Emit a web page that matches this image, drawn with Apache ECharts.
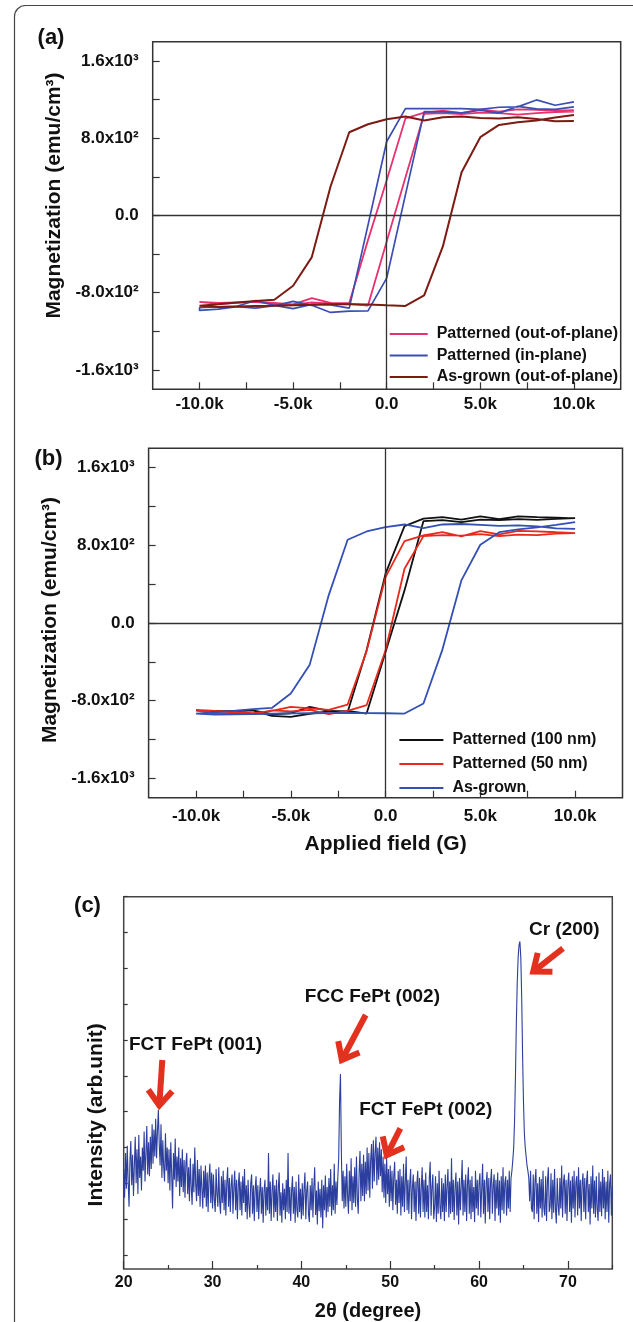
<!DOCTYPE html>
<html>
<head>
<meta charset="utf-8">
<script src="https://cdn.jsdelivr.net/npm/echarts@6.0.0/dist/echarts.min.js"></script>
<style>
  html, body { margin: 0; padding: 0; background: #fff; }
  #chart { width: 633px; height: 1322px; }
</style>
</head>
<body>
<div id="chart"></div>
<script>
const FONT = 'Liberation Sans, Arial, sans-serif'
const RED_ARROW = '#e2321f'

// applied field sweep, +10k -> -10k then back
const fieldDown = [10000, 9000, 8000, 7000, 6000, 5000, 4000, 3000, 2000, 1000, 0,
  -1000, -2000, -3000, -4000, -5000, -6000, -7000, -8000, -9000, -10000]
const fieldUp = fieldDown.slice().reverse()

// (a) magnetization, emu/cm3
const pinkDown = [1090, 1085, 1095, 1100, 1075, 1100, 1060, 1085, 1065, 1005, 366, -255, -907, -905, -855, -920, -905, -895, -900, -905, -895]
const pinkUp = [-910, -915, -905, -895, -920, -925, -900, -912, -915, -932, -269, 393, 1052, 1060, 1050, 1065, 1060, 1045, 1060, 1070, 1075]
const inPlaneDown = [1176, 1142, 1197, 1125, 1121, 1100, 1107, 1107, 1107, 1107, 766, -100, -959, -925, -920, -965, -930, -880, -940, -945, -955]
const inPlaneUp = [-983, -969, -945, -959, -935, -890, -930, -1004, -990, -987, -649, 214, 1076, 1073, 1062, 1090, 1060, 1130, 1105, 1100, 1125]
const grownDownA = [980, 976, 1000, 1018, 1004, 1011, 1025, 1018, 983, 1025, 997, 945, 862, 300, -431, -728, -873, -885, -900, -920, -935]
const grownUpA = [-955, -948, -942, -938, -935, -930, -925, -920, -918, -922, -930, -937, -828, -320, 448, 811, 938, 966, 983, 1014, 1042]

// (b)
const nm100Down = [1077, 1085, 1090, 1098, 1070, 1098, 1065, 1091, 1075, 998, 508, -281, -916, -905, -864, -930, -940, -900, -910, -905, -900]
const nm100Up = [-915, -912, -905, -900, -957, -967, -935, -910, -905, -933, -298, 336, 1050, 1060, 1040, 1065, 1060, 1070, 1062, 1072, 1080]
const nm50Down = [926, 935, 945, 950, 912, 947, 892, 936, 902, 844, 473, -290, -840, -895, -880, -864, -905, -930, -915, -905, -900]
const nm50Up = [-920, -935, -930, -938, -900, -910, -895, -940, -905, -847, -281, 559, 895, 905, 900, 915, 895, 910, 905, 920, 925]
const grownDownB = [970, 975, 995, 1005, 1000, 1010, 1020, 1015, 978, 1015, 988, 943, 858, 285, -429, -727, -875, -888, -905, -920, -933]
const grownUpB = [-950, -945, -940, -938, -935, -932, -930, -928, -925, -928, -930, -933, -830, -274, 439, 806, 936, 965, 985, 1010, 1039]

const fieldTicks = [-10000, -7500, -5000, -2500, 0, 2500, 5000, 7500, 10000]
const fieldLabels = [-10000, -5000, 0, 5000, 10000]
const magTicks = [-1600, -1200, -800, -400, 0, 400, 800, 1200, 1600]
const magLabels = [-1600, -800, 0, 800, 1600]
const magLabelText = ['-1.6x10³', '-8.0x10²', '0.0', '8.0x10²', '1.6x10³']

// (c) XRD, 2theta from 20.0 to 75.0 in 0.1 steps
const twoThetaStart = 20
const twoThetaStep = 0.1
const intensity = [
  240, 160, 285, 185, 305, 205, 135, 262, 318, 195,
  280, 165, 250, 330, 200, 295, 170, 335, 215, 275,
  180, 300, 235, 345, 205, 285, 360, 225, 315, 220,
  330, 240, 365, 255, 350, 275, 380, 270, 345, 405,
  310, 250, 365, 215, 320, 245, 205, 340, 235, 300,
  200, 295, 180, 315, 225, 130, 285, 210, 325, 190,
  275, 205, 300, 165, 270, 190, 295, 175, 265, 160,
  255, 285, 170, 245, 150, 270, 190, 140, 255, 175,
  300, 200, 150, 265, 165, 240, 135, 250, 185, 130,
  235, 160, 250, 135, 230, 120, 215, 255, 145, 230,
  130, 225, 155, 120, 240, 170, 135, 245, 150, 115,
  220, 145, 235, 125, 210, 110, 200, 245, 135, 215,
  120, 195, 225, 115, 190, 235, 125, 210, 100, 195,
  230, 125, 205, 110, 220, 145, 240, 120, 195, 100,
  210, 140, 105, 200, 225, 115, 195, 95, 185, 220,
  120, 195, 100, 175, 215, 115, 190, 90, 180, 210,
  110, 190, 125, 285, 115, 205, 95, 180, 225, 105,
  195, 120, 210, 95, 185, 230, 110, 175, 90, 200,
  125, 185, 100, 210, 120, 285, 115, 190, 95, 180,
  220, 115, 190, 90, 205, 125, 105, 225, 120, 185,
  100, 200, 110, 185, 230, 100, 180, 205, 115, 92,
  195, 125, 215, 105, 190, 245, 112, 180, 85, 205,
  122, 185, 105, 210, 75, 195, 125, 222, 105, 190,
  120, 215, 135, 240, 110, 195, 125, 255, 115, 205,
  140, 215, 270, 430, 505, 290, 150, 235, 130, 220,
  135, 255, 165, 115, 235, 150, 270, 125, 220, 145,
  245, 135, 275, 160, 115, 230, 290, 150, 255, 165,
  280, 150, 260, 170, 300, 180, 285, 160, 265, 310,
  185, 320, 205, 285, 330, 195, 300, 210, 315, 220,
  295, 175, 275, 160, 255, 145, 270, 170, 240, 135,
  250, 150, 235, 125, 220, 260, 140, 210, 115, 235,
  145, 240, 110, 220, 135, 255, 120, 205, 275, 125,
  210, 115, 200, 240, 100, 190, 225, 120, 205, 95,
  200, 235, 115, 215, 105, 190, 245, 120, 210, 105,
  230, 120, 195, 100, 215, 260, 110, 190, 225, 100,
  135, 220, 92, 200, 115, 235, 135, 100, 215, 120,
  200, 95, 225, 120, 195, 240, 105, 205, 115, 270,
  120, 210, 98, 190, 230, 110, 205, 85, 215, 125,
  195, 265, 110, 210, 120, 225, 95, 200, 245, 115,
  210, 100, 220, 120, 190, 92, 235, 130, 210, 110,
  200, 228, 105, 185, 255, 115, 210, 88, 200, 232,
  120, 215, 100, 205, 240, 115, 195, 225, 95, 210,
  130, 230, 110, 208, 90, 220, 125, 245, 115, 200,
  220, 110, 210, 130, 235, 120, 215, 235, 265, 300,
  377, 500, 650, 760, 830, 865, 875, 830, 720, 560,
  430, 340, 300, 275, 250, 235, 215, 150, 235, 130,
  120, 225, 100, 208, 240, 115, 200, 92, 218, 130,
  212, 105, 235, 130, 110, 220, 95, 205, 245, 120,
  135, 228, 100, 210, 118, 240, 130, 88, 215, 140,
  110, 215, 130, 250, 105, 202, 225, 115, 210, 95,
  198, 230, 120, 208, 90, 220, 130, 235, 105, 202,
  220, 110, 245, 130, 210, 95, 200, 228, 120, 215,
  100, 205, 235, 120, 198, 85, 220, 130, 250, 115,
  208, 105, 220, 130, 95, 230, 120, 205, 108, 240,
  130, 218, 100, 205, 120, 235, 90, 200, 225, 110,
  195
]
const twoThetaMajor = [20, 30, 40, 50, 60, 70]
const twoThetaMinor = [25, 35, 45, 55, 65, 75]
const intensityTicks = [0, 100, 200, 300, 400, 500, 600, 700, 800, 900, 1000]

function loop(down, up) {
  return fieldDown.map((h, i) => [h, down[i]]).concat(fieldUp.map((h, i) => [h, up[i]]))
}

const xrdData = intensity.map((v, i) => [+(twoThetaStart + i * twoThetaStep).toFixed(1), v])

const boldText = (size) => ({ fontSize: size, fontWeight: 'bold', color: '#111', fontFamily: FONT })
const tickStyle = { color: '#333', width: 1.2 }

function fieldAxis(gridIndex, withName, labelMargin) {
  return {
    type: 'value', gridIndex: gridIndex, min: -12500, max: 12500,
    axisLine: { show: false, onZero: false },
    axisTick: { inside: true, length: 7, lineStyle: tickStyle, customValues: fieldTicks },
    axisLabel: Object.assign({
      customValues: fieldLabels, margin: labelMargin,
      formatter: v => v === 0 ? '0.0' : (v / 1000).toFixed(1) + 'k'
    }, boldText(17)),
    splitLine: { show: false },
    name: withName ? 'Applied field (G)' : '',
    nameLocation: 'middle', nameGap: 36,
    nameTextStyle: boldText(21)
  }
}

function magAxis(gridIndex, nameGap, namePad) {
  return {
    type: 'value', gridIndex: gridIndex, min: -1800, max: 1800,
    axisLine: { show: false, onZero: false },
    axisTick: { inside: true, length: 7, lineStyle: tickStyle, customValues: magTicks },
    axisLabel: Object.assign({
      customValues: magLabels, margin: 14,
      formatter: v => magLabelText[magLabels.indexOf(v)]
    }, boldText(17)),
    splitLine: { show: false },
    name: 'Magnetization (emu/cm³)',
    nameLocation: 'middle', nameGap: nameGap,
    nameTextStyle: Object.assign({ padding: namePad }, boldText(21))
  }
}

const zeroLines = {
  silent: true, symbol: ['none', 'none'], label: { show: false }, animation: false,
  lineStyle: { color: '#333', width: 1.3, type: 'solid' },
  data: [{ xAxis: 0 }, { yAxis: 0 }]
}

function loopSeries(name, axis, data, color, width, extra) {
  return Object.assign({
    name: name, type: 'line', xAxisIndex: axis, yAxisIndex: axis,
    data: data, symbol: 'none', color: color,
    lineStyle: { width: width, color: color }
  }, extra || {})
}

function arrow(s, t) {
  const dx = t[0] - s[0], dy = t[1] - s[1]
  const len = Math.hypot(dx, dy)
  const ux = dx / len, uy = dy / len
  const tip = [t[0] - ux * 4.5, t[1] - uy * 4.5]
  const bx = tip[0] - ux * 15, by = tip[1] - uy * 15
  const style = { stroke: RED_ARROW, lineWidth: 6, fill: null, lineJoin: 'miter' }
  return [
    { type: 'polyline', shape: { points: [s, tip] }, style: style },
    { type: 'polyline', shape: { points: [[bx - uy * 12, by + ux * 12], tip, [bx + uy * 12, by - ux * 12]] }, style: style }
  ]
}

function label(text, x, y, size) {
  return {
    type: 'text', x: x, y: y,
    style: { text: text, font: 'bold ' + size + 'px ' + FONT, fill: '#111', align: 'center', verticalAlign: 'middle' }
  }
}

const legendBase = {
  orient: 'vertical', itemHeight: 14, selectedMode: false,
  textStyle: Object.assign({ padding: [0, 0, 0, 4] }, boldText(16))
}

const chart = echarts.init(document.getElementById('chart'))
chart.setOption({
  animation: false,
  backgroundColor: '#fff',
  grid: [
    { left: 152.7, top: 41.7, width: 468, height: 347.6, show: true, borderColor: '#333', borderWidth: 1.5 },
    { left: 148.6, top: 448.3, width: 473.9, height: 349.4, show: true, borderColor: '#333', borderWidth: 1.5 },
    { left: 123.7, top: 896.7, width: 488.6, height: 372.6, show: true, borderColor: '#444', borderWidth: 1.5 }
  ],
  xAxis: [
    fieldAxis(0, false, 7),
    fieldAxis(1, true, 10),
    {
      type: 'value', gridIndex: 2, min: 20, max: 75, position: 'bottom',
      axisLine: { show: false, onZero: false },
      axisTick: { inside: true, length: 8, lineStyle: tickStyle, customValues: twoThetaMajor },
      axisLabel: Object.assign({ customValues: twoThetaMajor, margin: 6 }, boldText(16)),
      splitLine: { show: false },
      name: '2θ (degree)', nameLocation: 'middle', nameGap: 32,
      nameTextStyle: boldText(20)
    },
    {
      type: 'value', gridIndex: 2, min: 20, max: 75, position: 'bottom',
      axisLine: { show: false, onZero: false },
      axisTick: { inside: true, length: 4, lineStyle: tickStyle, customValues: twoThetaMinor },
      axisLabel: { show: false },
      splitLine: { show: false }
    }
  ],
  yAxis: [
    magAxis(0, 88, [0, 0, 0, 40]),
    magAxis(1, 84, [0, 0, 0, 6]),
    {
      type: 'value', gridIndex: 2, min: -39, max: 1000,
      axisLine: { show: false, onZero: false },
      axisTick: { inside: true, length: 4, lineStyle: tickStyle, customValues: intensityTicks },
      axisLabel: { show: false },
      splitLine: { show: false },
      name: 'Intensity (arb.unit)', nameLocation: 'middle', nameGap: 17,
      nameTextStyle: Object.assign({ padding: [0, 64, 0, 0] }, boldText(21))
    }
  ],
  legend: [
    Object.assign({
      data: ['Patterned (out-of-plane)', 'Patterned (in-plane)', 'As-grown (out-of-plane)'],
      left: 384.7, top: 321, itemWidth: 38, itemGap: 5.5,
      icon: 'path://M0,0 L38,0 L38,2 L0,2 Z'
    }, legendBase),
    Object.assign({
      data: ['Patterned (100 nm)', 'Patterned (50 nm)', 'As-grown'],
      left: 394.4, top: 727, itemWidth: 44, itemGap: 8,
      icon: 'path://M0,0 L44,0 L44,2 L0,2 Z'
    }, legendBase)
  ],
  series: [
    loopSeries('Patterned (out-of-plane)', 0, loop(pinkDown, pinkUp), '#e8316f', 1.8, { markLine: zeroLines }),
    loopSeries('Patterned (in-plane)', 0, loop(inPlaneDown, inPlaneUp), '#3a4db2', 1.7),
    loopSeries('As-grown (out-of-plane)', 0, loop(grownDownA, grownUpA), '#7b1b13', 2),
    loopSeries('Patterned (100 nm)', 1, loop(nm100Down, nm100Up), '#111111', 1.8, { markLine: zeroLines }),
    loopSeries('Patterned (50 nm)', 1, loop(nm50Down, nm50Up), '#e8291c', 1.8),
    loopSeries('As-grown', 1, loop(grownDownB, grownUpB), '#3450b4', 1.8),
    {
      name: 'XRD', type: 'line', xAxisIndex: 2, yAxisIndex: 2, data: xrdData,
      symbol: 'none', color: '#2c3e9e', lineStyle: { width: 1.1, color: '#2c3e9e' }
    }
  ],
  graphic: [
    { type: 'rect', shape: { x: 14.5, y: 5.5, width: 640, height: 1340, r: 11 }, style: { fill: null, stroke: '#444', lineWidth: 1.2 } },
    label('(a)', 51, 38, 22),
    label('(b)', 48.5, 459, 22),
    label('(c)', 87.5, 906, 22),
    label('FCT FePt (001)', 195.5, 1045, 19),
    label('FCC FePt (002)', 372.4, 996.7, 19),
    label('FCT FePt (002)', 425.7, 1109.3, 19),
    label('Cr (200)', 564.3, 930, 19)
  ].concat(
    arrow([162.3, 1060], [159, 1110]),
    arrow([365.7, 1015], [339.7, 1064]),
    arrow([400.3, 1128.3], [384.7, 1159.3]),
    arrow([563, 948.3], [529.7, 974.3])
  )
})
</script>
</body>
</html>
